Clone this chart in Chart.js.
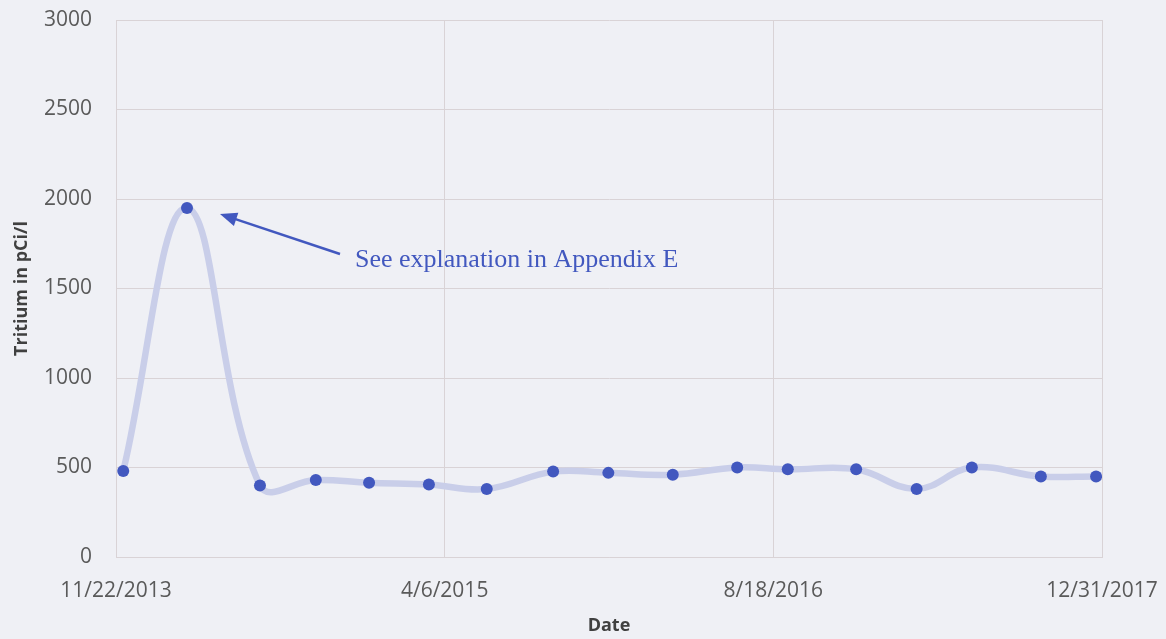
<!DOCTYPE html>
<html>
<head>
<meta charset="utf-8">
<script src="https://cdn.jsdelivr.net/npm/chart.js@4/dist/chart.umd.min.js"></script>
<style>
  html, body { margin: 0; padding: 0; background: #eff0f5; }
  #wrap { position: relative; width: 1166px; height: 639px; }
</style>
</head>
<body>
<div id="wrap"><canvas id="chart"></canvas></div>
<script>
// sample dates (m/d/yyyy) and tritium results in pCi/l
const sampleDates = [
  '12/3/2013', '3/10/2014', '6/29/2014', '9/22/2014', '12/12/2014', '3/13/2015',
  '6/9/2015', '9/18/2015', '12/11/2015', '3/18/2016', '6/24/2016', '9/9/2016',
  '12/22/2016', '3/24/2017', '6/16/2017', '9/29/2017', '12/22/2017'
];
const tritium = [
  480, 1950, 400, 430, 415, 405,
  380, 477, 470, 460, 500, 490,
  490, 380, 500, 450, 450
];
const xTickLabels = ['11/22/2013', '4/6/2015', '8/18/2016', '12/31/2017'];
const yMax = 3000;
const yStep = 500;
const note = 'See explanation in Appendix E';
const noteIndex = 1;

// spreadsheet-style day number
function toSerial(s) {
  const [m, d, y] = s.split('/').map(Number);
  return Date.UTC(y, m - 1, d) / 86400000 + 25569;
}

const xTicks = xTickLabels.map(toSerial);
const points = sampleDates.map((d, i) => ({ x: toSerial(d), y: tritium[i] }));

const blue = '#4258bf';

const noteArrow = {
  id: 'noteArrow',
  afterDatasetsDraw(chart) {
    const { ctx, scales } = chart;
    const px = scales.x.getPixelForValue(points[noteIndex].x);
    const py = scales.y.getPixelForValue(points[noteIndex].y);
    const tip = { x: px + 33, y: py + 6 };
    const tail = { x: px + 153, y: py + 46 };
    const ang = Math.atan2(tip.y - tail.y, tip.x - tail.x);
    ctx.save();
    ctx.strokeStyle = blue;
    ctx.fillStyle = blue;
    ctx.lineWidth = 2.5;
    ctx.beginPath();
    ctx.moveTo(tail.x, tail.y);
    ctx.lineTo(tip.x - 10 * Math.cos(ang), tip.y - 10 * Math.sin(ang));
    ctx.stroke();
    ctx.beginPath();
    ctx.moveTo(tip.x, tip.y);
    ctx.lineTo(tip.x - 17 * Math.cos(ang) + 7 * Math.sin(ang), tip.y - 17 * Math.sin(ang) - 7 * Math.cos(ang));
    ctx.lineTo(tip.x - 17 * Math.cos(ang) - 7 * Math.sin(ang), tip.y - 17 * Math.sin(ang) + 7 * Math.cos(ang));
    ctx.closePath();
    ctx.fill();
    ctx.font = '26px "Liberation Serif", "Times New Roman", serif';
    ctx.textBaseline = 'alphabetic';
    ctx.fillText(note, px + 168, py + 59);
    ctx.restore();
  }
};

const gridColor = '#d9d3d6';
const tickFont = { family: '"Open Sans", sans-serif', size: 21 };
const titleFont = { family: '"Open Sans", sans-serif', size: 18, weight: 'bold' };

new Chart(document.getElementById('chart'), {
  type: 'line',
  data: {
    datasets: [{
      data: points,
      borderColor: '#c9cee9',
      borderWidth: 6.5,
      tension: 0.4,
      pointRadius: 6,
      pointBackgroundColor: blue,
      pointBorderColor: blue,
      pointBorderWidth: 0,
      fill: false
    }]
  },
  options: {
    responsive: true,
    maintainAspectRatio: false,
    animation: false,
    layout: { padding: { top: 20, right: 64, left: 0, bottom: 0 } },
    plugins: { legend: { display: false }, tooltip: { enabled: false } },
    scales: {
      x: {
        type: 'linear',
        min: xTicks[0],
        max: xTicks[xTicks.length - 1],
        afterBuildTicks(scale) { scale.ticks = xTicks.map(v => ({ value: v })); },
        afterFit(scale) {
          scale.height = 82;
          scale.paddingLeft = 0;
          scale.paddingRight = 0;
        },
        grid: { color: gridColor, drawTicks: false },
        border: { color: gridColor },
        ticks: {
          padding: 21,
          color: '#5a5a5a',
          font: tickFont,
          maxRotation: 0,
          autoSkip: false,
          callback: (v) => xTickLabels[xTicks.indexOf(v)]
        },
        title: { display: true, text: 'Date', color: '#404040', font: titleFont, padding: { top: 0, bottom: 2 } }
      },
      y: {
        min: 0,
        max: yMax,
        afterFit(scale) {
          scale.width = 116;
          scale.paddingTop = 0;
          scale.paddingBottom = 0;
        },
        grid: { color: gridColor, drawTicks: false },
        border: { color: gridColor },
        ticks: { stepSize: yStep, padding: 24, color: '#5a5a5a', font: tickFont, callback: (v) => String(v) },
        title: { display: true, text: 'Tritium in pCi/l', color: '#404040', font: titleFont, padding: { top: 11, bottom: 0 } }
      }
    }
  },
  plugins: [noteArrow]
});
</script>
</body>
</html>
